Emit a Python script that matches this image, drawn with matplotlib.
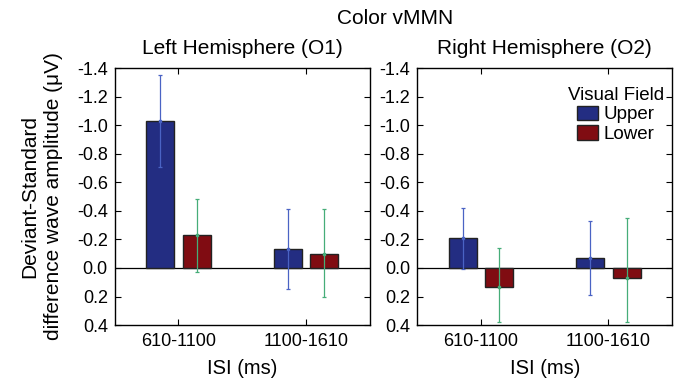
import matplotlib
matplotlib.use("Agg")
import matplotlib.pyplot as plt
import numpy as np

plt.rcParams['font.family'] = ['Liberation Sans', 'DejaVu Sans']

categories = ["610-1100", "1100-1610"]
series = ["Upper", "Lower"]
hemispheres = ["Left Hemisphere (O1)", "Right Hemisphere (O2)"]

left_upper = [-1.03, -0.13]
left_upper_err_lo = [-1.35, -0.41]
left_upper_err_hi = [-0.71, 0.15]
left_lower = [-0.23, -0.10]
left_lower_err_lo = [-0.48, -0.41]
left_lower_err_hi = [0.03, 0.20]

right_upper = [-0.21, -0.07]
right_upper_err_lo = [-0.42, -0.33]
right_upper_err_hi = [0.01, 0.19]
right_lower = [0.13, 0.07]
right_lower_err_lo = [-0.14, -0.35]
right_lower_err_hi = [0.38, 0.38]

yticks = [-1.4, -1.2, -1.0, -0.8, -0.6, -0.4, -0.2, 0.0, 0.2, 0.4]

bar_colors = ["#232d82", "#800c12"]
err_colors = ["#4a63c4", "#46ad78"]

fig = plt.figure(figsize=(6.83, 3.78), dpi=100)
ax1 = fig.add_axes([0.168, 0.140, 0.373, 0.680])
ax2 = fig.add_axes([0.611, 0.140, 0.373, 0.680])

data = [
    [(left_upper, left_upper_err_lo, left_upper_err_hi),
     (left_lower, left_lower_err_lo, left_lower_err_hi)],
    [(right_upper, right_upper_err_lo, right_upper_err_hi),
     (right_lower, right_lower_err_lo, right_lower_err_hi)],
]

x = np.arange(1, len(categories) + 1)
offsets = [-0.143, 0.143]
width = 0.22

for ax, hemi, dset in zip([ax1, ax2], hemispheres, data):
    ax.axhline(0, color="black", lw=0.9, zorder=1)
    for i, (vals, lo, hi) in enumerate(dset):
        vals = np.array(vals); lo = np.array(lo); hi = np.array(hi)
        ax.bar(x + offsets[i], vals, width, color=bar_colors[i],
               edgecolor="#222222", linewidth=1.0, label=series[i], zorder=2)
        ax.errorbar(x + offsets[i], vals, yerr=[vals - lo, hi - vals],
                    fmt='none', ecolor=err_colors[i], elinewidth=0.9,
                    capsize=1.2, capthick=0.9, zorder=3)
        ax.plot(x + offsets[i], vals, 's', ms=2, color=err_colors[i], zorder=3)
    ax.set_xlim(0.5, 2.5)
    ax.set_ylim(0.4, -1.4)
    ax.set_yticks(yticks)
    ax.set_yticklabels([f"{v:.1f}" for v in yticks])
    ax.set_xticks(x)
    ax.set_xticklabels(categories)
    ax.tick_params(direction="in", top=True, right=True, labelsize=13, length=4, width=0.8)
    ax.tick_params(axis="x", pad=6)
    ax.tick_params(axis="y", pad=5)
    for s in ax.spines.values():
        s.set_linewidth(1.0)
    ax.set_title(hemi, fontsize=15, pad=10)
    ax.set_xlabel("ISI (ms)", fontsize=14.5, labelpad=6)

ax1.set_ylabel("Deviant-Standard\ndifference wave amplitude (\u03bcV)", fontsize=15, labelpad=10,
               linespacing=1.3)

leg = ax2.legend(loc="upper right", bbox_to_anchor=(1.0, 0.96), frameon=False,
                 title="Visual Field", fontsize=13.5,
                 title_fontsize=13.5, handlelength=1.1, handleheight=0.8,
                 handletextpad=0.3, borderaxespad=0.15, labelspacing=0.1,
                 borderpad=0.3)

fig.text(0.578, 0.952, "Color vMMN", ha="center", va="center", fontsize=15)

fig.savefig("out.png", dpi=100)
